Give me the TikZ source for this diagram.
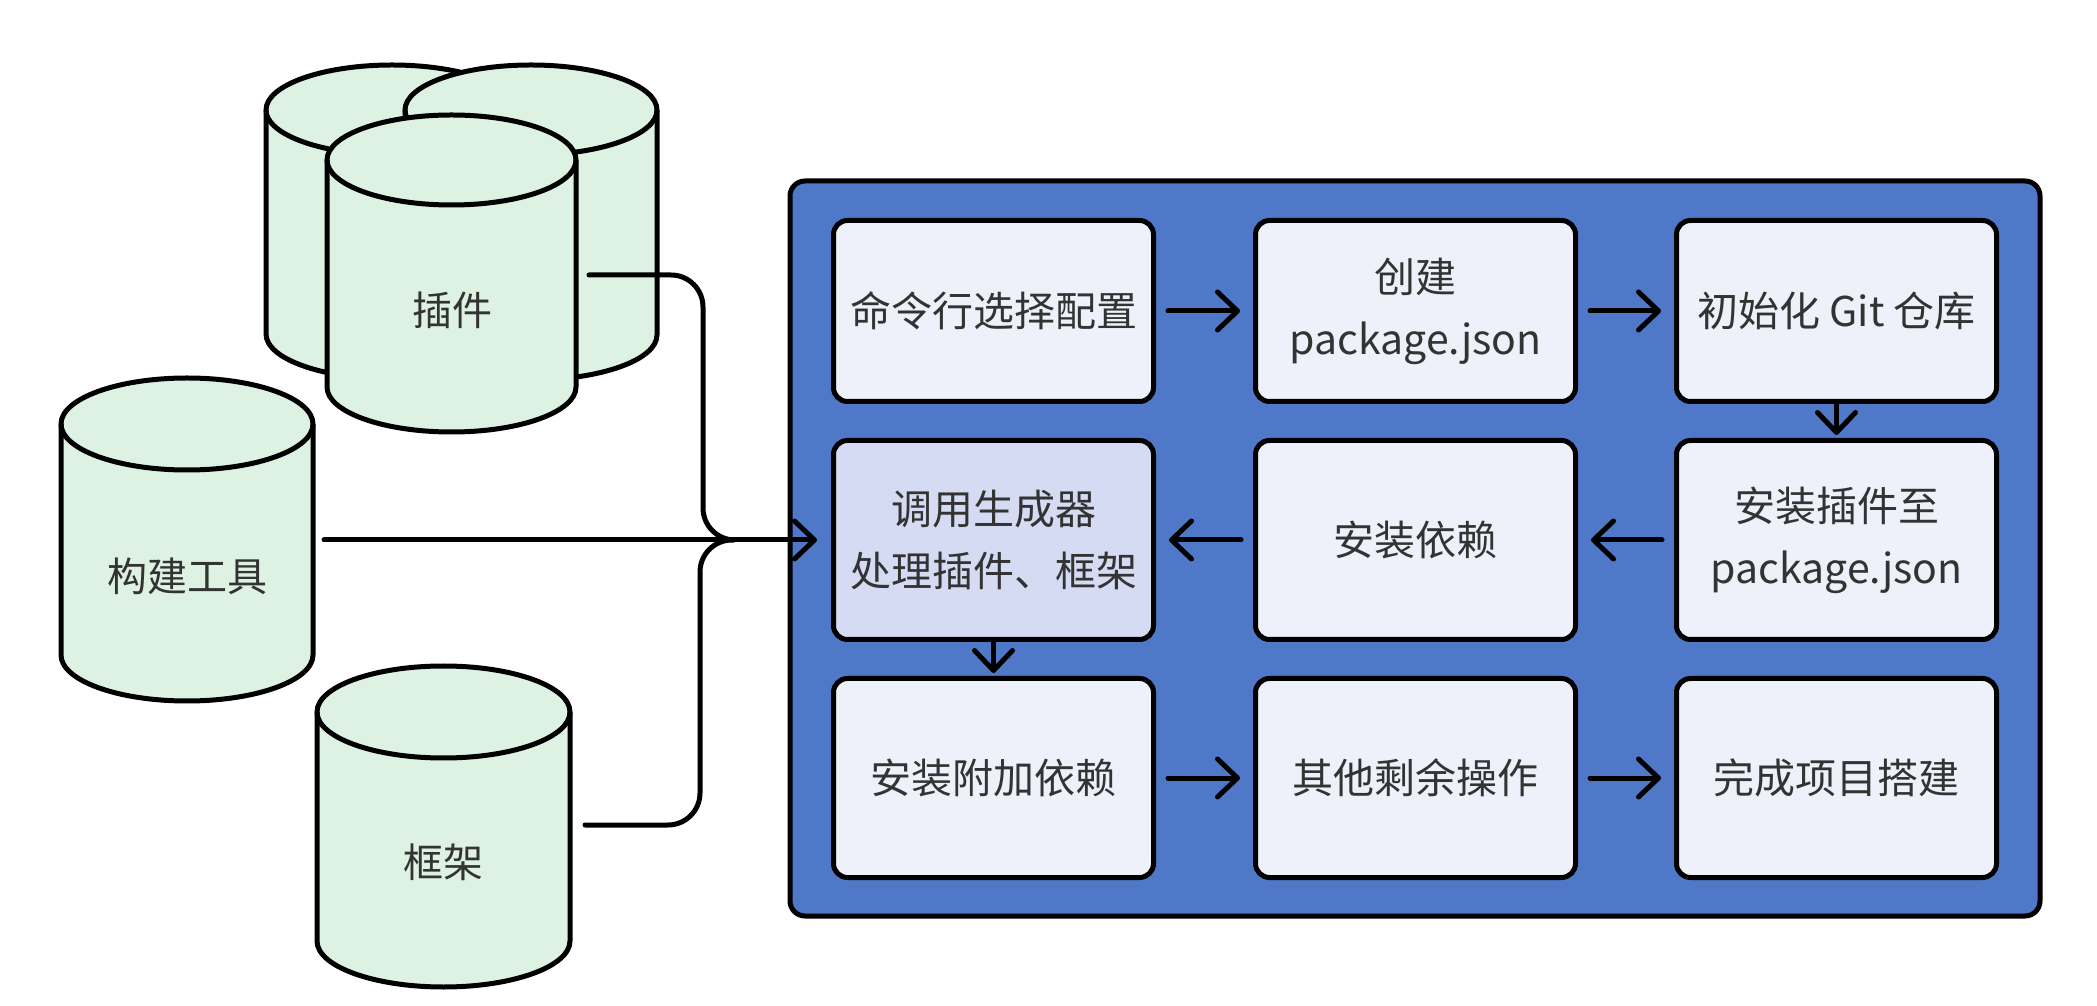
\documentclass[tikz,border=0pt]{standalone}
\usepackage{fontspec}
\setmainfont{Noto Sans CJK SC}
\usetikzlibrary{arrows.meta}
\definecolor{panelblue}{RGB}{80,120,200}
\definecolor{boxfill}{RGB}{238,241,250}
\definecolor{genfill}{RGB}{213,219,242}
\definecolor{cylfill}{RGB}{221,242,227}
\definecolor{txt}{RGB}{51,51,51}
\newcommand\cylinderat[5]{% cx, topY, botY, rx, ry
  \filldraw[cylst] (#1-#4,#2) -- (#1-#4,#3)
    arc[start angle=180,end angle=360,x radius=#4pt,y radius=#5pt]
    -- (#1+#4,#2)
    arc[start angle=0,end angle=180,x radius=#4pt,y radius=#5pt] -- cycle;
  \draw[cyledge] (#1-#4,#2) arc[start angle=180,end angle=360,x radius=#4pt,y radius=#5pt];
}
\tikzset{
  cylst/.style={draw=black,line width=5pt,fill=cylfill,line join=round},
  cyledge/.style={draw=black,line width=5pt},
  cyllabel/.style={text=txt,font=\fontsize{40}{48}\selectfont,inner sep=0pt},
  panelbox/.style={draw=black,line width=5pt,fill=panelblue,rounded corners=15pt,inner sep=0pt},
  stepbox/.style={draw=black,line width=5pt,fill=boxfill,rounded corners=14pt,minimum width=320pt,
    text=txt,font=\fontsize{41}{62}\selectfont,align=center,inner sep=0pt},
  conn/.style={draw=black,line width=5pt,line cap=round,rounded corners=32pt},
  arr/.style={draw=black,line width=5pt,line cap=round,-{Straight Barb[length=20pt,width=38pt,round]}},
}
\begin{document}
\begin{tikzpicture}[x=1pt,y=1pt]
\useasboundingbox (0,0) rectangle (2097,1005);
% cylinders
\cylinderat{392}{895}{671}{126}{45}
\cylinderat{531}{895}{670}{126}{45}
\cylinderat{451.5}{845}{618}{124.5}{45}
\cylinderat{187}{581}{350}{126}{46}
\cylinderat{443.5}{293}{64}{126.5}{46}
\node[cyllabel] (plug) at (452,695) {插件};
\node[cyllabel] (build) at (187,429) {构建工具};
\node[cyllabel] (frame) at (443,143) {框架};
\coordinate (plug-e) at (589,730);
\coordinate (build-e) at (324,465);
\coordinate (frame-e) at (585,180);
\coordinate (merge) at (733,465);
% panel
\node[panelbox,minimum width=1250pt,minimum height=735pt] (panel) at (1415,456.5) {};
% boxes
\node[stepbox,minimum height=181pt] (b1) at (993.5,694) {命令行选择配置};
\node[stepbox,minimum height=181pt] (b2) at (1415.5,694) {创建\\package.json};
\node[stepbox,minimum height=181pt] (b3) at (1836.5,694) {初始化 Git 仓库};
\node[stepbox,minimum height=199pt,fill=genfill] (b4) at (993.5,465) {调用生成器\\处理插件、框架};
\node[stepbox,minimum height=199pt] (b5) at (1415.5,465) {安装依赖};
\node[stepbox,minimum height=199pt] (b6) at (1836.5,465) {安装插件至\\package.json};
\node[stepbox,minimum height=199pt] (b7) at (993.5,227) {安装附加依赖};
\node[stepbox,minimum height=199pt] (b8) at (1415.5,227) {其他剩余操作};
\node[stepbox,minimum height=199pt] (b9) at (1836.5,227) {完成项目搭建};
% connectors
\draw[conn] (plug-e) -- (703,730) -- (703,465) -- (merge);
\draw[conn] (frame-e) -- (700,180) -- (700,465) -- (merge);
\draw[arr,shorten >=14pt] (build-e) -- (b4.west);
\draw[arr,shorten <=12pt,shorten >=13pt] (b1) -- (b2);
\draw[arr,shorten <=12pt,shorten >=13pt] (b2) -- (b3);
\draw[arr,shorten >=3pt] (b3) -- (b6);
\draw[arr,shorten <=12pt,shorten >=13pt] (b6) -- (b5);
\draw[arr,shorten <=12pt,shorten >=13pt] (b5) -- (b4);
\draw[arr,shorten >=3pt] (b4) -- (b7);
\draw[arr,shorten <=12pt,shorten >=13pt] (b7) -- (b8);
\draw[arr,shorten <=12pt,shorten >=13pt] (b8) -- (b9);
\end{tikzpicture}
\end{document}
